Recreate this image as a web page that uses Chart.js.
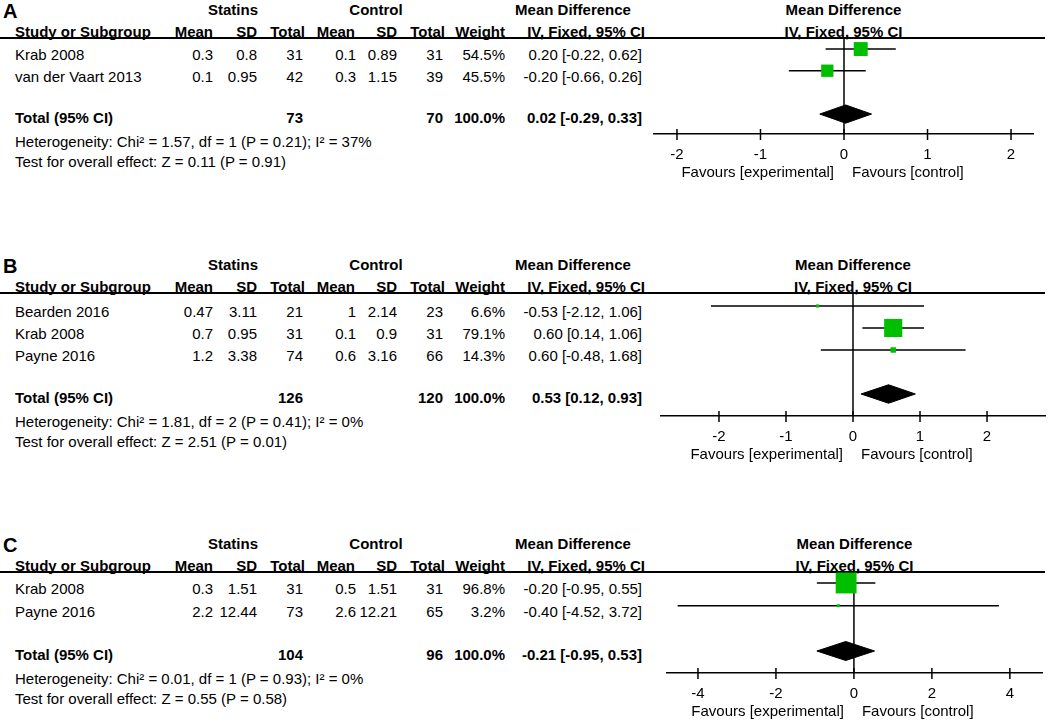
<!DOCTYPE html>
<html>
<head>
<meta charset="utf-8">
<script src="https://cdn.jsdelivr.net/npm/chart.js@4.4.1/dist/chart.umd.min.js"></script>
<style>
    body { margin: 0; background: #fff; }
    #page { position: relative; width: 1053px; height: 726px; overflow: hidden; font-family: 'Liberation Sans', Arial, sans-serif; color: #000; }
    .t { position: absolute; white-space: nowrap; font-size: 15px; line-height: 18px; }
    .b { font-weight: bold; }
    .rule { position: absolute; height: 2px; background: #000; }
    canvas { position: absolute; }
</style>
</head>
<body>
<div id="page"></div>
<script>
// Panel A
const aStudies = ['Krab 2008', 'van der Vaart 2013'];
const aStatMean = [0.3, 0.1];
const aStatSD = [0.8, 0.95];
const aStatN = [31, 42];
const aCtrlMean = [0.1, 0.3];
const aCtrlSD = [0.89, 1.15];
const aCtrlN = [31, 39];
const aWeight = [54.5, 45.5];
const aMD = [0.20, -0.20];
const aLow = [-0.22, -0.66];
const aHigh = [0.62, 0.26];
const aTotals = [73, 70];
const aPooled = [0.02, -0.29, 0.33];
const aTicks = [-2, -1, 0, 1, 2];
const aHet = 'Heterogeneity: Chi² = 1.57, df = 1 (P = 0.21); I² = 37%';
const aTest = 'Test for overall effect: Z = 0.11 (P = 0.91)';

// Panel B
const bStudies = ['Bearden 2016', 'Krab 2008', 'Payne 2016'];
const bStatMean = [0.47, 0.7, 1.2];
const bStatSD = [3.11, 0.95, 3.38];
const bStatN = [21, 31, 74];
const bCtrlMean = [1, 0.1, 0.6];
const bCtrlSD = [2.14, 0.9, 3.16];
const bCtrlN = [23, 31, 66];
const bWeight = [6.6, 79.1, 14.3];
const bMD = [-0.53, 0.60, 0.60];
const bLow = [-2.12, 0.14, -0.48];
const bHigh = [1.06, 1.06, 1.68];
const bTotals = [126, 120];
const bPooled = [0.53, 0.12, 0.93];
const bTicks = [-2, -1, 0, 1, 2];
const bHet = 'Heterogeneity: Chi² = 1.81, df = 2 (P = 0.41); I² = 0%';
const bTest = 'Test for overall effect: Z = 2.51 (P = 0.01)';

// Panel C
const cStudies = ['Krab 2008', 'Payne 2016'];
const cStatMean = [0.3, 2.2];
const cStatSD = [1.51, 12.44];
const cStatN = [31, 73];
const cCtrlMean = [0.5, 2.6];
const cCtrlSD = [1.51, 12.21];
const cCtrlN = [31, 65];
const cWeight = [96.8, 3.2];
const cMD = [-0.20, -0.40];
const cLow = [-0.95, -4.52];
const cHigh = [0.55, 3.72];
const cTotals = [104, 96];
const cPooled = [-0.21, -0.95, 0.53];
const cTicks = [-4, -2, 0, 2, 4];
const cHet = 'Heterogeneity: Chi² = 0.01, df = 1 (P = 0.93); I² = 0%';
const cTest = 'Test for overall effect: Z = 0.55 (P = 0.58)';

const colHeads = ['Mean', 'SD', 'Total', 'Mean', 'SD', 'Total', 'Weight', 'IV, Fixed, 95% CI'];
const favLeft = 'Favours [experimental]';
const favRight = 'Favours [control]';

const FONT = "'Liberation Sans', Arial, sans-serif";
const page = document.getElementById('page');

// right edges of table columns
const headRight = [213, 257, 305, 355, 397, 445, 505, 645];
const valRight = [213, 257, 303, 356, 397, 443, 505, 642];

function addText(str, x, y, align, bold, size) {
    const d = document.createElement('div');
    d.className = 't' + (bold ? ' b' : '');
    d.textContent = str;
    if (size) { d.style.fontSize = size + 'px'; d.style.lineHeight = (size + 4) + 'px'; }
    const h = size ? size + 4 : 18;
    d.style.top = (y - h / 2) + 'px';
    if (align === 'right') d.style.right = (1053 - x) + 'px';
    else if (align === 'center') { d.style.left = x + 'px'; d.style.transform = 'translateX(-50%)'; }
    else d.style.left = x + 'px';
    page.appendChild(d);
}

function fmtCI(m, lo, hi) {
    return m.toFixed(2) + ' [' + lo.toFixed(2) + ', ' + hi.toFixed(2) + ']';
}

// line of no effect behind the marks
const zeroLine = {
    id: 'zeroLine',
    beforeDatasetsDraw(chart) {
        const xs = chart.scales.x;
        const ctx = chart.ctx;
        const x = xs.getPixelForValue(0);
        ctx.save();
        ctx.strokeStyle = '#000';
        ctx.lineWidth = 1.5;
        ctx.beginPath();
        ctx.moveTo(x, chart.chartArea.top);
        ctx.lineTo(x, chart.chartArea.bottom);
        ctx.stroke();
        ctx.restore();
    }
};

// tick marks crossing the axis, plus the "Favours" labels
const axisExtras = {
    id: 'axisExtras',
    afterDraw(chart) {
        const xs = chart.scales.x;
        const ctx = chart.ctx;
        const y0 = chart.chartArea.bottom;
        ctx.save();
        ctx.strokeStyle = '#000';
        ctx.lineWidth = 1.5;
        xs.ticks.forEach(t => {
            const x = xs.getPixelForValue(t.value);
            ctx.beginPath();
            ctx.moveTo(x, y0 - 5);
            ctx.lineTo(x, y0 + 6);
            ctx.stroke();
        });
        const z = xs.getPixelForValue(0);
        ctx.fillStyle = '#000';
        ctx.font = '15px ' + FONT;
        ctx.textBaseline = 'middle';
        ctx.textAlign = 'right';
        ctx.fillText(favLeft, z - 10, y0 + 39);
        ctx.textAlign = 'left';
        ctx.fillText(favRight, z + 8, y0 + 39);
        ctx.restore();
    }
};

function drawPanel(p) {
    const L = p.lineY;

    // headers
    addText(p.letter, 3, L - 27, 'left', true, 20);
    addText('Statins', 233, L - 28, 'center', true);
    addText('Control', 376, L - 28, 'center', true);
    addText('Mean Difference', 573, L - 28, 'center', true);
    addText('Study or Subgroup', 15, L - 6, 'left', true);
    colHeads.forEach((h, i) => addText(h, headRight[i], L - 6, 'right', true));
    const mid = (p.left + p.right) / 2;
    addText('Mean Difference', mid, L - 28, 'center', true);
    addText('IV, Fixed, 95% CI', mid, L - 6, 'center', true);

    const rule = document.createElement('div');
    rule.className = 'rule';
    rule.style.left = '0px';
    rule.style.width = '1045px';
    rule.style.top = (L - 1) + 'px';
    page.appendChild(rule);

    // forest plot
    const canvas = document.createElement('canvas');
    const w = p.right - p.left;
    const h = (p.axisY - L) + 50;
    canvas.width = w;
    canvas.height = h;
    canvas.style.left = p.left + 'px';
    canvas.style.top = L + 'px';
    canvas.style.width = w + 'px';
    canvas.style.height = h + 'px';
    page.appendChild(canvas);

    const rows = p.studies.map((_, i) => i + 1);
    const totalRow = p.studies.length + 2;
    const sides = p.weight.map(wt => Math.max(3, 0.85 * Math.pow(wt, 0.7)));
    const dh = 0.42;

    const datasets = [];
    datasets.push({
        data: p.md.map((m, i) => ({ x: m, y: rows[i] })),
        pointStyle: 'rect',
        pointRadius: sides.map(s => s / Math.SQRT2),
        pointBackgroundColor: '#00bf00',
        pointBorderWidth: 0,
        showLine: false,
        clip: false
    });
    datasets.push({
        data: [
            { x: p.pooled[1], y: totalRow },
            { x: p.pooled[0], y: totalRow - dh },
            { x: p.pooled[2], y: totalRow },
            { x: p.pooled[0], y: totalRow + dh },
            { x: p.pooled[1], y: totalRow }
        ],
        showLine: true,
        fill: 'shape',
        backgroundColor: '#000',
        borderColor: '#000',
        borderWidth: 1,
        pointRadius: 0,
        clip: false
    });
    rows.forEach((r, i) => {
        datasets.push({
            data: [{ x: p.low[i], y: r }, { x: p.high[i], y: r }],
            showLine: true,
            borderColor: '#000',
            borderWidth: 1.5,
            pointRadius: 0,
            clip: false
        });
    });

    const chart = new Chart(canvas.getContext('2d'), {
        type: 'scatter',
        data: { datasets: datasets },
        options: {
            responsive: false,
            animation: false,
            events: [],
            layout: { padding: 0, autoPadding: false },
            plugins: {
                legend: { display: false },
                tooltip: { enabled: false }
            },
            scales: {
                x: {
                    type: 'linear',
                    min: p.xMin,
                    max: p.xMax,
                    afterBuildTicks: s => { s.ticks = p.ticks.map(v => ({ value: v })); },
                    afterFit: s => { s.height = 50; },
                    grid: { display: false },
                    border: { display: true, color: '#000', width: 1.5 },
                    ticks: {
                        color: '#000',
                        font: { family: FONT, size: 15 },
                        padding: 4,
                        maxRotation: 0,
                        autoSkip: false
                    }
                },
                y: {
                    type: 'linear',
                    display: false,
                    reverse: true,
                    min: p.yMin,
                    max: p.yMax
                }
            }
        },
        plugins: [zeroLine, axisExtras]
    });

    // table rows, lined up with the marks
    const ys = chart.scales.y;
    const rowY = r => L + ys.getPixelForValue(r);
    p.studies.forEach((s, i) => {
        const y = rowY(rows[i]) + 6;
        addText(s, 15, y, 'left');
        const vals = [p.sMean[i], p.sSD[i], p.sN[i], p.cMean[i], p.cSD[i], p.cN[i],
            p.weight[i].toFixed(1) + '%', fmtCI(p.md[i], p.low[i], p.high[i])];
        vals.forEach((v, j) => addText(String(v), valRight[j], y, 'right'));
    });
    const ty = rowY(totalRow) + 4;
    addText('Total (95% CI)', 15, ty, 'left', true);
    addText(String(p.totals[0]), valRight[2], ty, 'right', true);
    addText(String(p.totals[1]), valRight[5], ty, 'right', true);
    addText('100.0%', valRight[6], ty, 'right', true);
    addText(fmtCI(p.pooled[0], p.pooled[1], p.pooled[2]), valRight[7], ty, 'right', true);
    addText(p.het, 15, ty + 24, 'left');
    addText(p.test, 15, ty + 44, 'left');
}

drawPanel({
    letter: 'A', lineY: 38, axisY: 134, left: 653, right: 1034,
    xMin: -2.287, xMax: 2.275, yMin: 0.49, yMax: 4.92, ticks: aTicks,
    studies: aStudies, sMean: aStatMean, sSD: aStatSD, sN: aStatN,
    cMean: aCtrlMean, cSD: aCtrlSD, cN: aCtrlN, weight: aWeight,
    md: aMD, low: aLow, high: aHigh, totals: aTotals, pooled: aPooled,
    het: aHet, test: aTest
});

drawPanel({
    letter: 'B', lineY: 293, axisY: 416, left: 660, right: 1046,
    xMin: -2.88, xMax: 2.88, yMin: 0.41, yMax: 6.0, ticks: bTicks,
    studies: bStudies, sMean: bStatMean, sSD: bStatSD, sN: bStatN,
    cMean: bCtrlMean, cSD: bCtrlSD, cN: bCtrlN, weight: bWeight,
    md: bMD, low: bLow, high: bHigh, totals: bTotals, pooled: bPooled,
    het: bHet, test: bTest
});

drawPanel({
    letter: 'C', lineY: 572, axisY: 673, left: 666, right: 1043,
    xMin: -4.82, xMax: 4.85, yMin: 0.515, yMax: 4.97, ticks: cTicks,
    studies: cStudies, sMean: cStatMean, sSD: cStatSD, sN: cStatN,
    cMean: cCtrlMean, cSD: cCtrlSD, cN: cCtrlN, weight: cWeight,
    md: cMD, low: cLow, high: cHigh, totals: cTotals, pooled: cPooled,
    het: cHet, test: cTest
});
</script>
</body>
</html>
